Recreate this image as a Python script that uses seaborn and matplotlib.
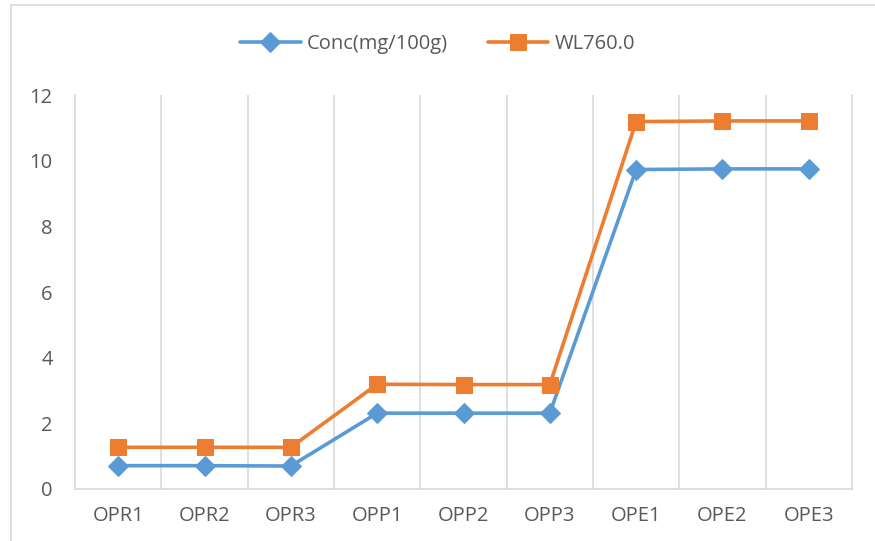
import matplotlib
matplotlib.use("Agg")
import matplotlib.pyplot as plt
from matplotlib.lines import Line2D
import seaborn as sns
import pandas as pd

samples = ["OPR1", "OPR2", "OPR3", "OPP1", "OPP2", "OPP3", "OPE1", "OPE2", "OPE3"]
conc = [0.71, 0.71, 0.70, 2.31, 2.31, 2.31, 9.73, 9.75, 9.75]
wl760 = [1.27, 1.27, 1.27, 3.19, 3.18, 3.18, 11.19, 11.21, 11.21]
series_names = ["Conc(mg/100g)", "WL760.0"]
y_ticks = [0, 2, 4, 6, 8, 10, 12]

df = pd.DataFrame({
    "sample": samples * 2,
    "value": conc + wl760,
    "series": [series_names[0]] * len(samples) + [series_names[1]] * len(samples),
})

sns.set_theme(style="white")
plt.rcParams["font.family"] = ["Open Sans", "DejaVu Sans"]

fig = plt.figure(figsize=(8.75, 5.41), dpi=100)
ax = fig.add_axes([75/875, 1-489/541, (852-75)/875, (489-95)/541])

colors = {series_names[0]: "#5B9BD5", series_names[1]: "#ED7D31"}
markers = {series_names[0]: "D", series_names[1]: "s"}
msizes = {series_names[0]: 10, series_names[1]: 11}

for name in series_names:
    sub = df[df["series"] == name]
    sns.lineplot(data=sub, x="sample", y="value", ax=ax, color=colors[name],
                 marker=markers[name], markersize=msizes[name],
                 markeredgecolor=colors[name], linewidth=2.6, label=name, sort=False)

ax.set_xlim(-0.5, len(samples) - 0.5)
ax.set_ylim(0, 12)
ax.set_yticks(y_ticks)
ax.set_xlabel("")
ax.set_ylabel("")
ax.set_xticks(range(len(samples)))
ax.set_xticklabels(samples)
ax.set_xticks([i + 0.5 for i in range(len(samples) - 1)], minor=True)
ax.grid(which="minor", axis="x", color="#d9d9d9", linewidth=1.2)
ax.grid(which="major", axis="both", visible=False)
ax.tick_params(axis="both", which="both", length=0, labelsize=14.5, labelcolor="#595959")
ax.tick_params(axis="x", pad=12)
ax.tick_params(axis="y", pad=16)
for s in ["left", "right", "bottom"]:
    ax.spines[s].set_color("#d9d9d9")
    ax.spines[s].set_linewidth(1.2)
ax.spines["top"].set_visible(False)

h, l = ax.get_legend_handles_labels()
ax.legend(h, l, loc="center", bbox_to_anchor=(0.5, 1-44/541), bbox_transform=fig.transFigure,
          ncol=2, frameon=False, fontsize=14.5, labelcolor="#595959", handlelength=3.0,
          columnspacing=2.0, handletextpad=0.3)

fig.add_artist(Line2D([11/875, 11/875], [0, 1-5/541], color="#d9d9d9", linewidth=1.2))
fig.add_artist(Line2D([11/875, 1], [1-5/541, 1-5/541], color="#d9d9d9", linewidth=1.2))

fig.savefig("out.png", dpi=100, facecolor="white")
